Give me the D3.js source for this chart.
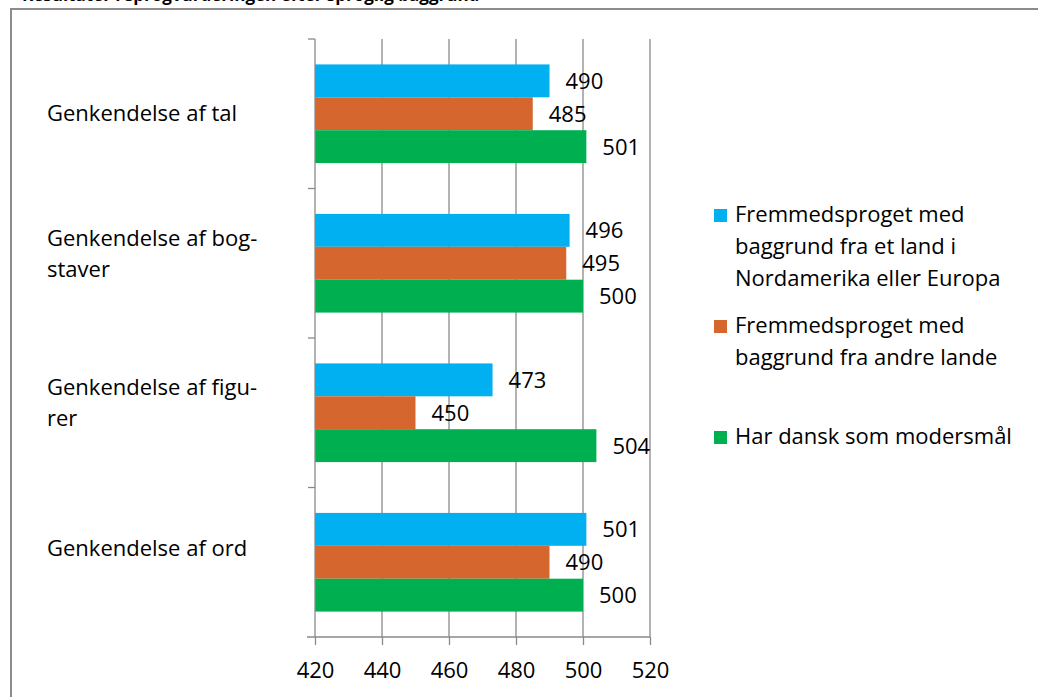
<!DOCTYPE html>
<html><head><meta charset="utf-8">
<script src="https://cdn.jsdelivr.net/npm/d3@7"></script>
<style>
html,body{margin:0;padding:0;background:#fff;}
svg{display:block;font-family:"Open Sans", Lato, sans-serif;}
</style></head>
<body>
<svg id="chart" width="1038" height="697"></svg>
<script>
const categories = [
  ["Genkendelse af tal"],
  ["Genkendelse af bog-", "staver"],
  ["Genkendelse af figu-", "rer"],
  ["Genkendelse af ord"]
];
const categoryKeys = ["tal", "bogstaver", "figurer", "ord"];
const seriesNames = [
  ["Fremmedsproget med", "baggrund fra et land i", "Nordamerika eller Europa"],
  ["Fremmedsproget med", "baggrund fra andre lande"],
  ["Har dansk som modersmål"]
];
const seriesColors = ["#00B0F0", "#D5662E", "#00B050"];
const europaValues = [490, 496, 473, 501];
const andreValues = [485, 495, 450, 490];
const danskValues = [501, 500, 504, 500];
const xTicks = [420, 440, 460, 480, 500, 520];
const titleText = "Resultater i sprogvurderingen efter sproglig baggrund";

(function () {
const series = [europaValues, andreValues, danskValues];
const svg = d3.select("#chart");
const FS = 22;

svg.append("text").attr("x", 22).attr("y", 1)
  .attr("font-weight", "bold").attr("font-size", 17).attr("fill", "#000")
  .text(titleText);

svg.append("path").attr("d", "M11,697 L11,9 L1038,9")
  .attr("fill", "none").attr("stroke", "#8c8c8c").attr("stroke-width", 2);

const pLeft = 315, pRight = 650, pTop = 39, pBottom = 637;
const x = d3.scaleLinear().domain([420, 520]).range([pLeft, pRight]);
const y = d3.scaleBand().domain(categoryKeys).range([pTop, pBottom]).paddingInner(0.34).paddingOuter(0.17);
const ySub = d3.scaleBand().domain([0, 1, 2]).range([0, y.bandwidth()]);

const gridColor = "#8a8a8a";
svg.append("g").selectAll("line").data(xTicks.slice(1)).join("line")
  .attr("x1", d => x(d)).attr("x2", d => x(d))
  .attr("y1", pTop).attr("y2", pBottom)
  .attr("stroke", gridColor).attr("stroke-width", 1.3);

categoryKeys.forEach((k, i) => {
  series.forEach((vals, s) => {
    const y0 = y(k) + ySub(s);
    svg.append("rect")
      .attr("x", x(420)).attr("y", y0)
      .attr("width", x(vals[i]) - x(420)).attr("height", ySub.bandwidth())
      .attr("fill", seriesColors[s]);
    svg.append("text")
      .attr("x", x(vals[i]) + 16).attr("y", y0 + ySub.bandwidth() / 2 + 2)
      .attr("dominant-baseline", "middle")
      .attr("font-size", FS).attr("fill", "#000")
      .text(vals[i]);
  });
});

const xAxis = d3.axisBottom(x).tickValues(xTicks).tickSize(8).tickSizeOuter(0).tickPadding(17);
const gx = svg.append("g").attr("transform", `translate(0,${pBottom})`).call(xAxis);
gx.select(".domain").remove();
gx.selectAll(".tick line").attr("stroke", gridColor).attr("stroke-width", 1.3);
gx.selectAll(".tick text").attr("font-size", FS).attr("fill", "#000").attr("font-family", "'Open Sans', sans-serif");
svg.append("line").attr("x1", pLeft - 8).attr("x2", pRight).attr("y1", pBottom).attr("y2", pBottom)
  .attr("stroke", gridColor).attr("stroke-width", 1.3);

svg.append("line").attr("x1", pLeft).attr("x2", pLeft).attr("y1", pTop).attr("y2", pBottom)
  .attr("stroke", gridColor).attr("stroke-width", 1.3);
const yTickPos = [pTop].concat(categoryKeys.map(k => y(k) + y.bandwidth() + y.step() * y.paddingInner() / 2));
svg.append("g").selectAll("line").data(yTickPos.slice(0, 4)).join("line")
  .attr("x1", pLeft - 7).attr("x2", pLeft).attr("y1", d => d).attr("y2", d => d)
  .attr("stroke", gridColor).attr("stroke-width", 1.3);

categoryKeys.forEach((k, i) => {
  const lines = categories[i];
  const cy = y(k) + y.bandwidth() / 2;
  const lh = 31;
  const startY = lines.length === 1 ? cy + 1 - (i === categoryKeys.length - 1 ? 13 : 0) : cy - 8 - lh / 2;
  const t = svg.append("text").attr("font-size", FS).attr("fill", "#000");
  lines.forEach((ln, j) => {
    t.append("tspan").attr("x", 47).attr("y", startY + j * lh)
      .attr("dominant-baseline", "middle").text(ln);
  });
});

const legendY = [216, 327, 438];
seriesNames.forEach((lines, s) => {
  svg.append("rect").attr("x", 714).attr("y", legendY[s] - 7).attr("width", 13).attr("height", 13)
    .attr("fill", seriesColors[s]);
  const t = svg.append("text").attr("font-size", FS).attr("fill", "#000");
  lines.forEach((ln, j) => {
    t.append("tspan").attr("x", 735).attr("y", legendY[s] + j * 32)
      .attr("dominant-baseline", "middle").text(ln);
  });
});
})();
</script>
</body></html>
